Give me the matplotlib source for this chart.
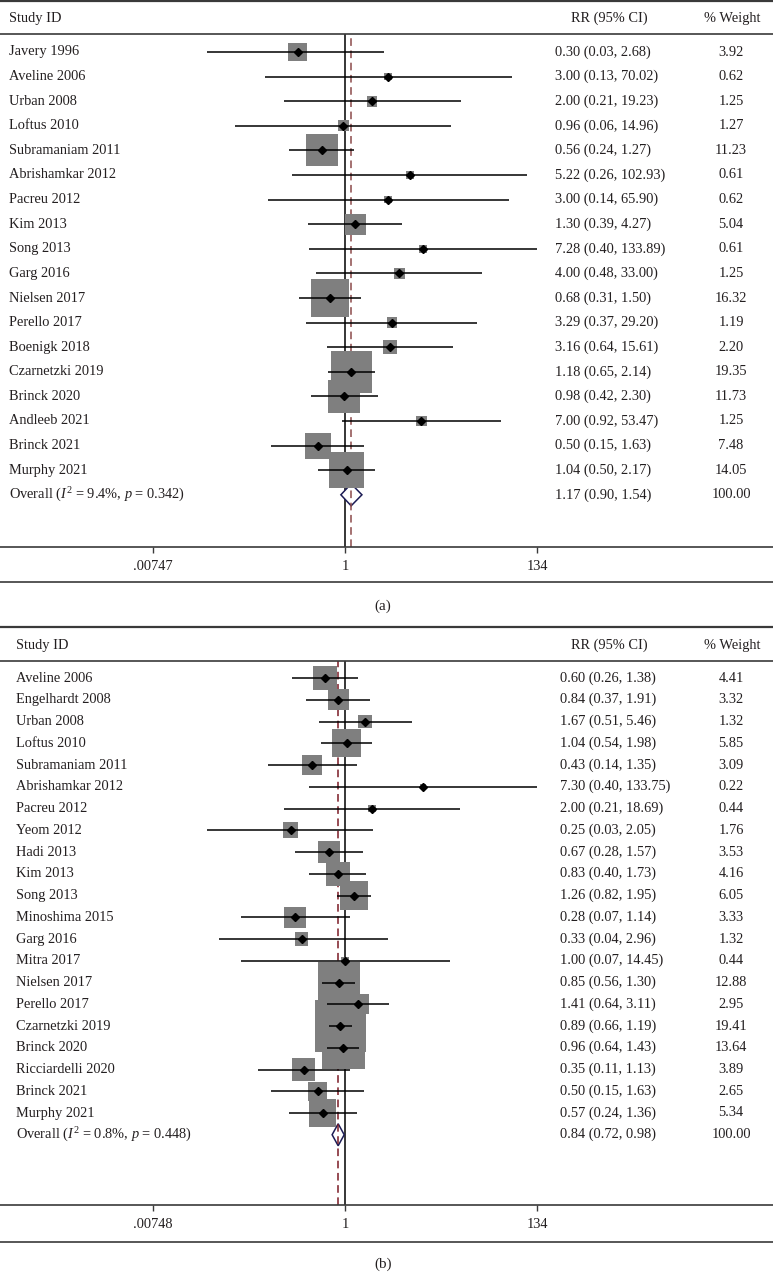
import numpy as np
import matplotlib.pyplot as plt
from matplotlib.patches import Polygon
from matplotlib.lines import Line2D

plt.rcParams['font.family'] = ['Liberation Serif', 'DejaVu Serif']
plt.rcParams['mathtext.fontset'] = 'custom'
plt.rcParams['mathtext.rm'] = 'Liberation Serif'
plt.rcParams['mathtext.it'] = 'Liberation Serif:italic'

# ---- panel (a) data ----
a_studies = ["Javery 1996", "Aveline 2006", "Urban 2008", "Loftus 2010", "Subramaniam 2011",
             "Abrishamkar 2012", "Pacreu 2012", "Kim 2013", "Song 2013", "Garg 2016",
             "Nielsen 2017", "Perello 2017", "Boenigk 2018", "Czarnetzki 2019", "Brinck 2020",
             "Andleeb 2021", "Brinck 2021", "Murphy 2021"]
a_rr = [0.30, 3.00, 2.00, 0.96, 0.56, 5.22, 3.00, 1.30, 7.28, 4.00, 0.68, 3.29, 3.16, 1.18, 0.98, 7.00, 0.50, 1.04]
a_lo = [0.03, 0.13, 0.21, 0.06, 0.24, 0.26, 0.14, 0.39, 0.40, 0.48, 0.31, 0.37, 0.64, 0.65, 0.42, 0.92, 0.15, 0.50]
a_hi = [2.68, 70.02, 19.23, 14.96, 1.27, 102.93, 65.90, 4.27, 133.89, 33.00, 1.50, 29.20, 15.61, 2.14, 2.30, 53.47, 1.63, 2.17]
a_w = [3.92, 0.62, 1.25, 1.27, 11.23, 0.61, 0.62, 5.04, 0.61, 1.25, 16.32, 1.19, 2.20, 19.35, 11.73, 1.25, 7.48, 14.05]
a_overall = [1.17, 0.90, 1.54]
a_i2, a_p = "9.4%", "0.342"
a_ticks = [0.00747, 1, 134]
a_ticklabels = [".00747", "1", "134"]

# ---- panel (b) data ----
b_studies = ["Aveline 2006", "Engelhardt 2008", "Urban 2008", "Loftus 2010", "Subramaniam 2011",
             "Abrishamkar 2012", "Pacreu 2012", "Yeom 2012", "Hadi 2013", "Kim 2013", "Song 2013",
             "Minoshima 2015", "Garg 2016", "Mitra 2017", "Nielsen 2017", "Perello 2017",
             "Czarnetzki 2019", "Brinck 2020", "Ricciardelli 2020", "Brinck 2021", "Murphy 2021"]
b_rr = [0.60, 0.84, 1.67, 1.04, 0.43, 7.30, 2.00, 0.25, 0.67, 0.83, 1.26, 0.28, 0.33, 1.00, 0.85, 1.41, 0.89, 0.96, 0.35, 0.50, 0.57]
b_lo = [0.26, 0.37, 0.51, 0.54, 0.14, 0.40, 0.21, 0.03, 0.28, 0.40, 0.82, 0.07, 0.04, 0.07, 0.56, 0.64, 0.66, 0.64, 0.11, 0.15, 0.24]
b_hi = [1.38, 1.91, 5.46, 1.98, 1.35, 133.75, 18.69, 2.05, 1.57, 1.73, 1.95, 1.14, 2.96, 14.45, 1.30, 3.11, 1.19, 1.43, 1.13, 1.63, 1.36]
b_w = [4.41, 3.32, 1.32, 5.85, 3.09, 0.22, 0.44, 1.76, 3.53, 4.16, 6.05, 3.33, 1.32, 0.44, 12.88, 2.95, 19.41, 13.64, 3.89, 2.65, 5.34]
b_overall = [0.84, 0.72, 0.98]
b_i2, b_p = "0.8%", "0.448"
b_ticks = [0.00748, 1, 134]
b_ticklabels = [".00748", "1", "134"]

W, H = 773, 1273
X1, PXDEC = 345, 90.3          # pixel of RR=1 and pixels per decade
FS = 10.4
TXT = '#231f20'
LN = '#3a3a3a'

fig = plt.figure(figsize=(W / 100, H / 100), dpi=100)


def fx(px):
    return px / W


def fy(py):
    return 1 - py / H


def hline(py, lw=1.2):
    fig.add_artist(Line2D([0, 1], [fy(py), fy(py)], color=LN, lw=lw))


def panel(studies, rr, lo, hi, w, overall, i2, p, ticks, ticklabels, lay):
    top, head, row0, step, axis, bottom, cap, caption = lay
    ax = fig.add_axes([0, fy(axis), 1, (axis - head) / H])
    ax.set_xscale('log')
    ax.set_xlim(10 ** (-X1 / PXDEC), 10 ** ((W - X1) / PXDEC))
    ax.set_ylim((axis - row0) / step, (head - row0) / step)
    for s in ['left', 'right']:
        ax.spines[s].set_visible(False)
    for s in ['top', 'bottom']:
        ax.spines[s].set_color(LN)
        ax.spines[s].set_linewidth(1.2)
    ax.set_yticks([])
    ax.set_xticks(ticks)
    ax.set_xticklabels(ticklabels)
    ax.minorticks_off()
    ax.tick_params(axis='x', direction='out', length=4.5, width=1, color=LN,
                   labelsize=FS, labelcolor=TXT, pad=5)

    n = len(studies)
    ov, olo, ohi = overall
    yt = ax.get_yaxis_transform()

    ax.axvline(1, color='black', lw=1.1, zorder=1)
    ax.axvline(ov, color=lay_dash, lw=1.1, ls=(0, (5, 3)), zorder=2.5)

    k = (np.sqrt(np.array(w)) * sq_k) * 0.72
    ys = np.arange(n)
    ax.scatter(rr, ys, s=k ** 2, marker='s', color='#7f7f7f', linewidths=0, zorder=3)
    ax.hlines(ys, lo, hi, color='black', lw=1.1, zorder=4)
    ax.plot(rr, ys, 'D', color='black', ms=4.0, zorder=5)

    dh = 11 / step
    ax.add_patch(Polygon([[olo, n], [ov, n - dh], [ohi, n], [ov, n + dh]],
                         closed=True, facecolor='white', edgecolor='#1c1c55', lw=1.1, zorder=2))

    for i in range(n):
        ax.text(fx(lx), i, studies[i], transform=yt, va='center', ha='left', fontsize=FS, color=TXT)
        ax.text(fx(cx), i, f"{rr[i]:.2f} ({lo[i]:.2f}, {hi[i]:.2f})", transform=yt,
                va='center', ha='left', fontsize=FS, color=TXT)
        ax.text(fx(731), i, f"{w[i]:.2f}", transform=yt, va='center', ha='center', fontsize=FS, color=TXT)
    ax.text(fx(lx), n, f"Overall ($I^2$ = {i2}, $p$ = {p})", transform=yt,
            va='center', ha='left', fontsize=FS, color=TXT)
    ax.text(fx(cx), n, f"{ov:.2f} ({olo:.2f}, {ohi:.2f})", transform=yt,
            va='center', ha='left', fontsize=FS, color=TXT)
    ax.text(fx(731), n, "100.00", transform=yt, va='center', ha='center', fontsize=FS, color=TXT)

    hy = (top + head) / 2 + 1
    fig.text(fx(lx), fy(hy), "Study ID", va='center', ha='left', fontsize=FS, color=TXT)
    fig.text(fx(571), fy(hy), "RR (95% CI)", va='center', ha='left', fontsize=FS, color=TXT)
    fig.text(fx(732), fy(hy), "% Weight", va='center', ha='center', fontsize=FS, color=TXT)
    hline(top, lw=1.6)
    hline(bottom, lw=1.2)
    fig.text(fx(383), fy(cap), caption, va='center', ha='center', fontsize=FS + 0.5, color=TXT)


# panel (a)
lay_dash, sq_k, lx, cx = '#8b4a4a', 9.5, 9, 555
panel(a_studies, a_rr, a_lo, a_hi, a_w, a_overall, a_i2, a_p, a_ticks, a_ticklabels,
      (1, 34, 52, 24.6, 547, 582, 606, "(a)"))

# panel (b)
lay_dash, sq_k, lx, cx = '#7a1a24', 11.7, 16, 560
panel(b_studies, b_rr, b_lo, b_hi, b_w, b_overall, b_i2, b_p, b_ticks, b_ticklabels,
      (627, 661, 678, 21.75, 1205, 1242, 1264, "(b)"))

fig.savefig("out.png", dpi=100)
